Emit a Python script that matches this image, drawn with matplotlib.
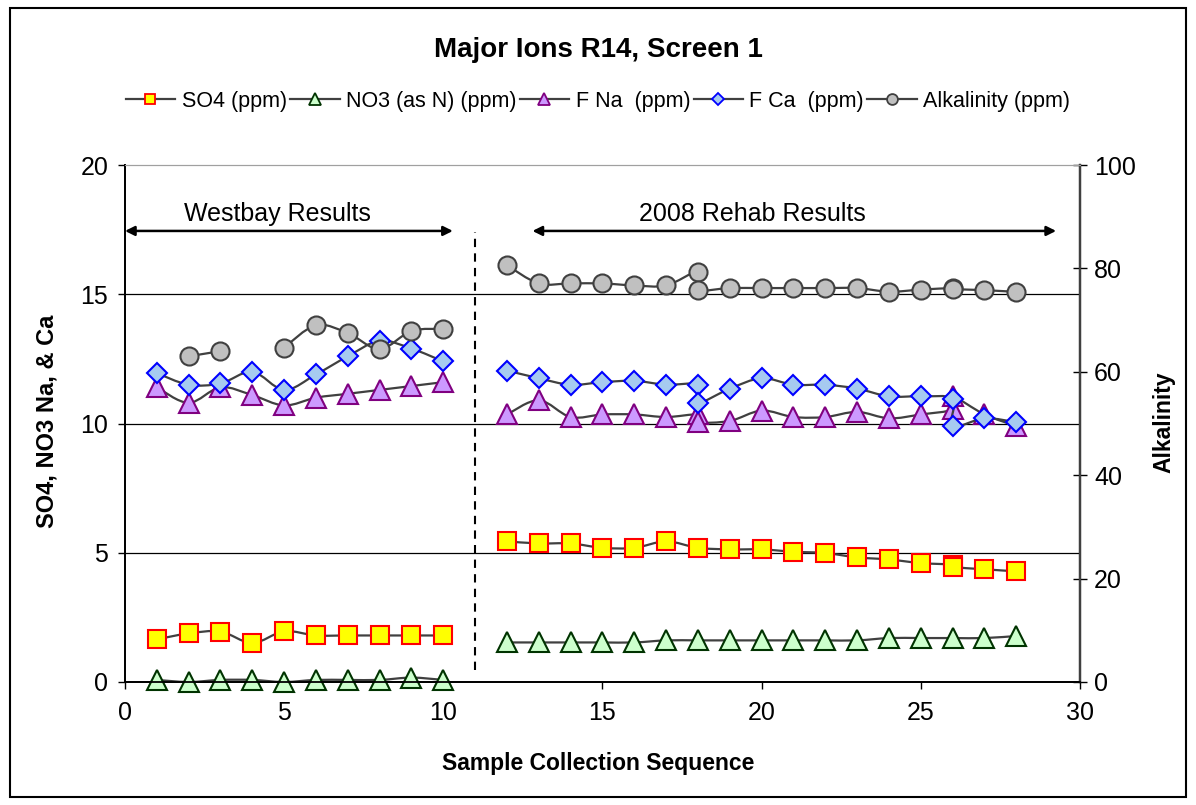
import numpy as np
import matplotlib
matplotlib.use("Agg")
import matplotlib.pyplot as plt
from matplotlib.path import Path
from matplotlib.patches import PathPatch, Rectangle
from matplotlib.lines import Line2D

plt.rcParams['font.family'] = ['Liberation Sans', 'DejaVu Sans']

nan = np.nan

# values; nan marks a missing sample (gap in the line)
so4X = [1, 2, 3, 4, 5, 6, 7, 8, 9, 10, nan, 12, 13, 14, 15, 16, 17, 18, 19, 20, 21, 22, 23, 24, 25, 26, 26, 27, 28]
so4Y = [1.65, 1.88, 1.95, 1.51, 1.96, 1.80, 1.80, 1.80, 1.80, 1.80, nan,
        5.44, 5.36, 5.36, 5.19, 5.19, 5.44, 5.19, 5.13, 5.13, 5.04, 4.99, 4.82, 4.74, 4.60, 4.54, 4.45, 4.36, 4.28]

no3X = [1, 2, 3, 4, 5, 6, 7, 8, 9, 10, nan, 12, 13, 14, 15, 16, 17, 18, 19, 20, 21, 22, 23, 24, 25, 26, 27, 28]
no3Y = [0.08, 0.0, 0.08, 0.08, 0.0, 0.08, 0.08, 0.08, 0.17, 0.08, nan,
        1.53, 1.53, 1.53, 1.53, 1.53, 1.61, 1.61, 1.61, 1.61, 1.61, 1.61, 1.61, 1.70, 1.70, 1.70, 1.70, 1.78]

ionX = [1, 2, 3, 4, 5, 6, 7, 8, 9, 10, nan, 12, 13, 14, 15, 16, 17, 18, 18, 19, 20, 21, 22, 23, 24, 25, 26, 26, 27, 28]
fnaY = [11.4, 10.8, 11.4, 11.1, 10.7, 11.0, 11.15, 11.3, 11.45, 11.6, nan,
        10.35, 10.9, 10.25, 10.35, 10.35, 10.25, 10.35, 10.05, 10.1, 10.5, 10.25, 10.25, 10.45, 10.2, 10.35,
        10.55, 11.05, 10.35, 9.9]
fcaY = [11.95, 11.5, 11.55, 12.0, 11.3, 11.9, 12.6, 13.2, 12.9, 12.4, nan,
        12.05, 11.75, 11.5, 11.6, 11.65, 11.5, 11.5, 10.8, 11.35, 11.75, 11.5, 11.5, 11.35, 11.05, 11.05,
        10.95, 9.9, 10.2, 10.05]

alkX = [2, 3, nan, 5, 6, 7, 8, 9, 10, nan, 12, 13, 14, 15, 16, 17, 18, 18, 19, 20, 21, 22, 23, 24, 25, 26, 26, 27, 28]
alkY = [63.0, 64.0, nan, 64.7, 69.0, 67.5, 64.4, 67.9, 68.3, nan,
        80.6, 77.1, 77.1, 77.1, 76.7, 76.7, 79.4, 75.9, 76.2, 76.2, 76.2, 76.2, 76.2, 75.5, 75.9,
        76.2, 76.0, 75.8, 75.45]

lineColor = "#404040"


def smoothPath(xs, ys):
    """Excel-style smoothed line: cubic bezier through each run of points, broken at nan"""
    segments, current = [], []
    for x, y in zip(xs, ys):
        if np.isnan(x) or np.isnan(y):
            if current:
                segments.append(current)
            current = []
        else:
            current.append((x, y))
    if current:
        segments.append(current)

    verts, codes = [], []
    for seg in segments:
        p = np.array(seg, dtype=float)
        n = len(p)
        if n < 2:
            continue
        verts.append(p[0])
        codes.append(Path.MOVETO)
        for i in range(n - 1):
            p0 = p[i - 1] if i > 0 else p[i]
            p3 = p[i + 2] if i + 2 < n else p[i + 1]
            c1 = p[i] + (p[i + 1] - p0) / 6
            c2 = p[i + 1] - (p3 - p[i]) / 6
            verts += [c1, c2, p[i + 1]]
            codes += [Path.CURVE4] * 3
    return Path(verts, codes)


def drawSeries(axis, xs, ys, z, **markerStyle):
    axis.add_patch(PathPatch(smoothPath(xs, ys), fill=False, edgecolor=lineColor, linewidth=1.6, zorder=z))
    axis.plot(xs, ys, linestyle='none', zorder=z + 0.5, clip_on=False, **markerStyle)


fig = plt.figure(figsize=(11.96, 8.05), dpi=100)
ax = fig.add_axes([0.1045, 0.1528, 0.7985, 0.6422])
ax2 = ax.twinx()

so4Style = dict(marker='s', markersize=13, markerfacecolor='#FFFF00', markeredgecolor='#FF0000', markeredgewidth=1.5)
no3Style = dict(marker='^', markersize=14, markerfacecolor='#CCFFCC', markeredgecolor='#003300', markeredgewidth=1.5)
fnaStyle = dict(marker='^', markersize=14, markerfacecolor='#CC99FF', markeredgecolor='#800080', markeredgewidth=1.5)
fcaStyle = dict(marker='D', markersize=10, markerfacecolor='#A6CAF0', markeredgecolor='#0000FF', markeredgewidth=1.5)
alkStyle = dict(marker='o', markersize=13, markerfacecolor='#C0C0C0', markeredgecolor='#404040', markeredgewidth=1.5)

drawSeries(ax, so4X, so4Y, 3, **so4Style)
drawSeries(ax, no3X, no3Y, 4, **no3Style)
drawSeries(ax, ionX, fnaY, 5, **fnaStyle)
drawSeries(ax, ionX, fcaY, 6, **fcaStyle)
drawSeries(ax2, alkX, alkY, 3, **alkStyle)

# axes, ticks and grid
ax.set_xlim(0, 30)
ax.set_ylim(0, 20)
ax2.set_ylim(0, 100)
ax.set_xticks(range(0, 31, 5))
ax.set_yticks(range(0, 21, 5))
ax2.set_yticks(range(0, 101, 20))
for yv in [5, 10, 15]:
    ax.axhline(yv, color='black', linewidth=0.9, zorder=1)
ax.tick_params(axis='both', labelsize=18, length=5, width=1, direction='out', pad=7)
ax.tick_params(axis='x', pad=9)
ax2.tick_params(axis='y', labelsize=18, length=10, width=1, direction='inout', pad=5)
for a in (ax, ax2):
    a.spines['top'].set_color('#A0A0A0')
    a.spines['left'].set_linewidth(1.3)
    a.spines['right'].set_linewidth(1.6)
    a.spines['bottom'].set_linewidth(1.3)
ax2.spines['right'].set_color('#404040')

# section annotations
ax.annotate('', xy=(0.0, 17.45), xytext=(10.3, 17.45),
            arrowprops=dict(arrowstyle='<|-|>', color='black', lw=1.8, mutation_scale=14, shrinkA=0, shrinkB=0))
ax.annotate('', xy=(12.8, 17.45), xytext=(29.25, 17.45),
            arrowprops=dict(arrowstyle='<|-|>', color='black', lw=1.8, mutation_scale=14, shrinkA=0, shrinkB=0))
ax.text(4.8, 18.1, 'Westbay Results', fontsize=18, ha='center', va='center')
ax.text(19.7, 18.1, '2008 Rehab Results', fontsize=18, ha='center', va='center')
ax.plot([11.0, 11.0], [0.45, 17.4], color='black', linewidth=1.5, linestyle=(0, (4, 3)), zorder=2)

# titles and labels
fig.text(0.5, 0.938, 'Major Ions R14, Screen 1', fontsize=20, fontweight='bold', ha='center', va='center')
fig.text(0.5, 0.052, 'Sample Collection Sequence', fontsize=16.5, fontweight='bold', ha='center', va='center')
fig.text(0.039, 0.477, 'SO4, NO3 Na, & Ca', fontsize=17, fontweight='bold', rotation=90, ha='center', va='center')
fig.text(0.973, 0.475, 'Alkalinity', fontsize=16.5, fontweight='bold', rotation=90, ha='center', va='center')

# legend
legendNames = ['SO4 (ppm)', 'NO3 (as N) (ppm)', 'F Na  (ppm)', 'F Ca  (ppm)', 'Alkalinity (ppm)']
legendStyles = [so4Style, no3Style, fnaStyle, fcaStyle, alkStyle]
handles = []
for style in legendStyles:
    small = dict(style)
    small['markersize'] = style['markersize'] * 0.6
    small['markeredgewidth'] = 1.3
    handles.append(Line2D([], [], color=lineColor, linewidth=1.6, **small))
fig.legend(handles, legendNames, loc='center', bbox_to_anchor=(0.5, 0.8745), ncol=5, frameon=False,
           fontsize=15.5, handlelength=2.3, handletextpad=0.3, columnspacing=0.15, borderaxespad=0)

# outer chart border
fig.patches.append(Rectangle((0.008, 0.01), 0.984, 0.98, transform=fig.transFigure, fill=False,
                             edgecolor='black', linewidth=1.5))

fig.savefig('out.png', dpi=100)
